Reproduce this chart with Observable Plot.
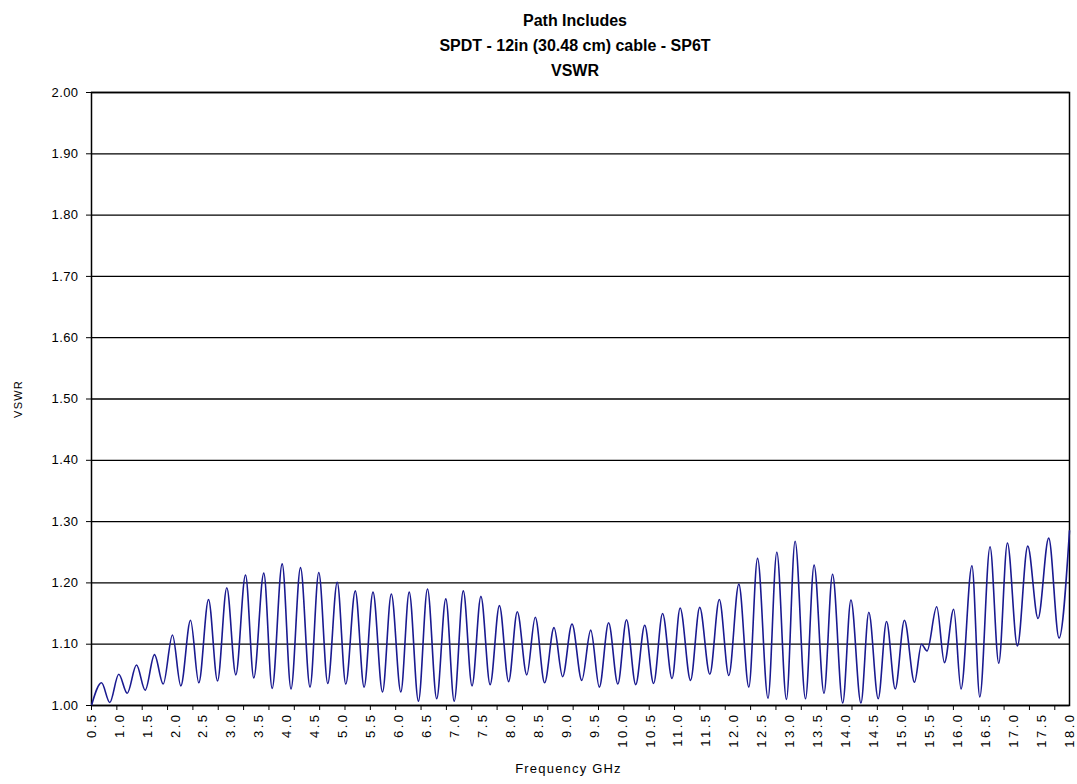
<!DOCTYPE html>
<html>
<head>
<meta charset="utf-8">
<script src="https://cdn.jsdelivr.net/npm/d3@7"></script>
<script src="https://cdn.jsdelivr.net/npm/@observablehq/plot@0.6"></script>
<style>
  body { margin: 0; background: #fff; }
  #title { position: absolute; top: 8px; left: 575px; transform: translateX(-50%); z-index: 2;
    font: bold 16px "Liberation Sans", Arial, sans-serif; line-height: 25px; text-align: center; white-space: nowrap; color: #000; }
  #chart { position: absolute; top: 0; left: 0; z-index: 1; }
  g[aria-label="x-axis tick label"] { letter-spacing: 2.5px; }
  g[aria-label="y-axis tick label"] { letter-spacing: 0.4px; }
  g[aria-label="text"] { letter-spacing: 1.2px; }
</style>
</head>
<body>
<div id="title">Path Includes<br>SPDT - 12in (30.48 cm) cable - SP6T<br>VSWR</div>
<div id="chart"></div>
<script>
// Frequency (GHz) of each read-off extremum of the trace
const freqGHz = [0.500, 0.679, 0.827, 0.988, 1.139, 1.305, 1.461, 1.627, 1.783, 1.949,
  2.098, 2.272, 2.420, 2.594, 2.755, 2.921, 3.082, 3.256, 3.404, 3.583,
  3.733, 3.912, 4.070, 4.240, 4.410, 4.567, 4.728, 4.897, 5.050, 5.220,
  5.378, 5.537, 5.707, 5.865, 6.035, 6.185, 6.350, 6.512, 6.677, 6.840,
  6.990, 7.153, 7.309, 7.468, 7.633, 7.799, 7.964, 8.119, 8.289, 8.441,
  8.608, 8.776, 8.930, 9.098, 9.273, 9.433, 9.587, 9.753, 9.918, 10.073,
  10.238, 10.399, 10.558, 10.719, 10.888, 11.033, 11.219, 11.383, 11.564, 11.734,
  11.904, 12.083, 12.262, 12.418, 12.605, 12.763, 12.935, 13.090, 13.276, 13.430,
  13.607, 13.760, 13.942, 14.089, 14.268, 14.409, 14.577, 14.726, 14.882, 15.046,
  15.227, 15.352, 15.451, 15.624, 15.762, 15.928, 16.059, 16.254, 16.395, 16.578,
  16.734, 16.889, 17.068, 17.253, 17.437, 17.628, 17.813, 18.000];
// VSWR at those frequencies
const vswr = [1.000, 1.037, 1.005, 1.051, 1.020, 1.066, 1.025, 1.083, 1.035, 1.115,
  1.032, 1.139, 1.037, 1.173, 1.040, 1.192, 1.050, 1.213, 1.045, 1.216,
  1.028, 1.231, 1.027, 1.225, 1.030, 1.217, 1.036, 1.201, 1.035, 1.187,
  1.030, 1.185, 1.022, 1.182, 1.022, 1.185, 1.007, 1.190, 1.011, 1.174,
  1.007, 1.187, 1.032, 1.178, 1.034, 1.163, 1.039, 1.153, 1.050, 1.144,
  1.037, 1.127, 1.047, 1.133, 1.041, 1.123, 1.030, 1.135, 1.035, 1.140,
  1.034, 1.131, 1.036, 1.150, 1.044, 1.159, 1.041, 1.160, 1.051, 1.173,
  1.049, 1.198, 1.030, 1.240, 1.012, 1.250, 1.010, 1.268, 1.011, 1.229,
  1.020, 1.214, 1.004, 1.172, 1.004, 1.152, 1.011, 1.137, 1.027, 1.139,
  1.038, 1.100, 1.089, 1.161, 1.070, 1.157, 1.027, 1.228, 1.014, 1.259,
  1.069, 1.265, 1.097, 1.260, 1.142, 1.273, 1.110, 1.285];

const xTickLabels = [0.5, 1.0, 1.5, 2.0, 2.5, 3.0, 3.5, 4.0, 4.5, 5.0, 5.5, 6.0,
  6.5, 7.0, 7.5, 8.0, 8.5, 9.0, 9.5, 10.0, 10.5, 11.0, 11.5, 12.0,
  12.5, 13.0, 13.5, 14.0, 14.5, 15.0, 15.5, 16.0, 16.5, 17.0, 17.5, 18.0];
const xTickMarks = d3.range(0, 39).map(k => 0.5 + k * 0.4536);
const yTicks = [1.0, 1.1, 1.2, 1.3, 1.4, 1.5, 1.6, 1.7, 1.8, 1.9, 2.0];

const data = freqGHz.map((f, i) => ({f, v: vswr[i]}));

const chart = Plot.plot({
  width: 1077,
  height: 784,
  marginLeft: 91,
  marginRight: 8,
  marginTop: 92,
  marginBottom: 79,
  style: {fontFamily: '"Liberation Sans", Arial, sans-serif', fontSize: "13px", color: "#000", background: "transparent"},
  x: {domain: [0.5, 18]},
  y: {domain: [1, 2]},
  marks: [
    Plot.ruleY(yTicks, {stroke: "#000", strokeWidth: 1.3}),
    Plot.frame({stroke: "#000", strokeWidth: 1.5}),
    Plot.line(data, {x: "f", y: "v", stroke: "#1a1a90", strokeWidth: 1.6, curve: "monotone-x"}),
    Plot.axisY({ticks: yTicks, tickFormat: d => d.toFixed(2), tickSize: 5, tickPadding: 8, label: null, fontSize: 13}),
    Plot.axisX({ticks: xTickMarks, tickSize: 5, tickFormat: () => "", label: null}),
    Plot.axisX({ticks: xTickLabels, tickSize: 0, tickPadding: 7, tickRotate: -90, tickFormat: d => d.toFixed(1), label: null, fontSize: 13}),
    Plot.text(["VSWR"], {text: d => d, frameAnchor: "left", dx: -73, rotate: -90, textAnchor: "middle", fontSize: 11}),
    Plot.text(["Frequency GHz"], {text: d => d, frameAnchor: "bottom", dy: 67, dx: -12, textAnchor: "middle", fontSize: 13})
  ]
});
document.getElementById("chart").append(chart);
</script>
</body>
</html>
